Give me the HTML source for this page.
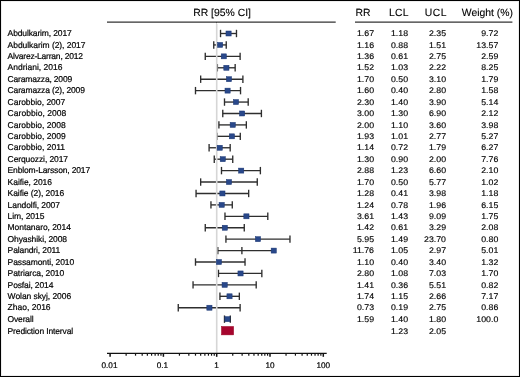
<!DOCTYPE html>
<html><head><meta charset="utf-8"><style>
html,body{margin:0;padding:0;background:#fff;}
body{width:520px;height:377px;position:relative;overflow:hidden;}
#frame{position:absolute;left:0;top:0;width:518px;height:375px;border:1px solid #000;}
#frame2{position:absolute;left:1px;top:1px;width:516px;height:373px;border:1px solid #eeeeee;}
svg{position:absolute;left:0;top:0;}
#txt{will-change:transform;text-rendering:geometricPrecision;}
#txt text{font-family:"Liberation Sans",sans-serif;fill:#000;stroke:#000;stroke-width:0.2;}
</style></head><body>
<div id="frame"></div><div id="frame2"></div>
<svg width="520" height="377" viewBox="0 0 520 377"><line x1="220.53" y1="33.5" x2="236.48" y2="33.5" stroke="#2e2e2e" stroke-width="1.35"/><line x1="220.53" y1="29.80" x2="220.53" y2="37.20" stroke="#2e2e2e" stroke-width="1.35"/><line x1="236.48" y1="29.80" x2="236.48" y2="37.20" stroke="#2e2e2e" stroke-width="1.35"/><line x1="213.74" y1="44.926" x2="226.24" y2="44.926" stroke="#2e2e2e" stroke-width="1.35"/><line x1="213.74" y1="41.23" x2="213.74" y2="48.63" stroke="#2e2e2e" stroke-width="1.35"/><line x1="226.24" y1="41.23" x2="226.24" y2="48.63" stroke="#2e2e2e" stroke-width="1.35"/><line x1="205.26" y1="56.352000000000004" x2="240.12" y2="56.352000000000004" stroke="#2e2e2e" stroke-width="1.35"/><line x1="205.26" y1="52.65" x2="205.26" y2="60.05" stroke="#2e2e2e" stroke-width="1.35"/><line x1="240.12" y1="52.65" x2="240.12" y2="60.05" stroke="#2e2e2e" stroke-width="1.35"/><line x1="217.38" y1="67.77799999999999" x2="235.16" y2="67.77799999999999" stroke="#2e2e2e" stroke-width="1.35"/><line x1="217.38" y1="64.08" x2="217.38" y2="71.48" stroke="#2e2e2e" stroke-width="1.35"/><line x1="235.16" y1="64.08" x2="235.16" y2="71.48" stroke="#2e2e2e" stroke-width="1.35"/><line x1="200.66" y1="79.20400000000001" x2="242.89" y2="79.20400000000001" stroke="#2e2e2e" stroke-width="1.35"/><line x1="200.66" y1="75.50" x2="200.66" y2="82.90" stroke="#2e2e2e" stroke-width="1.35"/><line x1="242.89" y1="75.50" x2="242.89" y2="82.90" stroke="#2e2e2e" stroke-width="1.35"/><line x1="195.49" y1="90.63" x2="240.53" y2="90.63" stroke="#2e2e2e" stroke-width="1.35"/><line x1="195.49" y1="86.93" x2="195.49" y2="94.33" stroke="#2e2e2e" stroke-width="1.35"/><line x1="240.53" y1="86.93" x2="240.53" y2="94.33" stroke="#2e2e2e" stroke-width="1.35"/><line x1="224.49" y1="102.056" x2="248.20" y2="102.056" stroke="#2e2e2e" stroke-width="1.35"/><line x1="224.49" y1="98.36" x2="224.49" y2="105.76" stroke="#2e2e2e" stroke-width="1.35"/><line x1="248.20" y1="98.36" x2="248.20" y2="105.76" stroke="#2e2e2e" stroke-width="1.35"/><line x1="222.77" y1="113.482" x2="261.41" y2="113.482" stroke="#2e2e2e" stroke-width="1.35"/><line x1="222.77" y1="109.78" x2="222.77" y2="117.18" stroke="#2e2e2e" stroke-width="1.35"/><line x1="261.41" y1="109.78" x2="261.41" y2="117.18" stroke="#2e2e2e" stroke-width="1.35"/><line x1="218.91" y1="124.908" x2="246.35" y2="124.908" stroke="#2e2e2e" stroke-width="1.35"/><line x1="218.91" y1="121.21" x2="218.91" y2="128.61" stroke="#2e2e2e" stroke-width="1.35"/><line x1="246.35" y1="121.21" x2="246.35" y2="128.61" stroke="#2e2e2e" stroke-width="1.35"/><line x1="216.93" y1="136.334" x2="240.28" y2="136.334" stroke="#2e2e2e" stroke-width="1.35"/><line x1="216.93" y1="132.63" x2="216.93" y2="140.03" stroke="#2e2e2e" stroke-width="1.35"/><line x1="240.28" y1="132.63" x2="240.28" y2="140.03" stroke="#2e2e2e" stroke-width="1.35"/><line x1="209.10" y1="147.76" x2="230.18" y2="147.76" stroke="#2e2e2e" stroke-width="1.35"/><line x1="209.10" y1="144.06" x2="209.10" y2="151.46" stroke="#2e2e2e" stroke-width="1.35"/><line x1="230.18" y1="144.06" x2="230.18" y2="151.46" stroke="#2e2e2e" stroke-width="1.35"/><line x1="214.26" y1="159.186" x2="232.74" y2="159.186" stroke="#2e2e2e" stroke-width="1.35"/><line x1="214.26" y1="155.49" x2="214.26" y2="162.89" stroke="#2e2e2e" stroke-width="1.35"/><line x1="232.74" y1="155.49" x2="232.74" y2="162.89" stroke="#2e2e2e" stroke-width="1.35"/><line x1="221.49" y1="170.612" x2="260.38" y2="170.612" stroke="#2e2e2e" stroke-width="1.35"/><line x1="221.49" y1="166.91" x2="221.49" y2="174.31" stroke="#2e2e2e" stroke-width="1.35"/><line x1="260.38" y1="166.91" x2="260.38" y2="174.31" stroke="#2e2e2e" stroke-width="1.35"/><line x1="200.66" y1="182.038" x2="257.27" y2="182.038" stroke="#2e2e2e" stroke-width="1.35"/><line x1="200.66" y1="178.34" x2="200.66" y2="185.74" stroke="#2e2e2e" stroke-width="1.35"/><line x1="257.27" y1="178.34" x2="257.27" y2="185.74" stroke="#2e2e2e" stroke-width="1.35"/><line x1="196.06" y1="193.464" x2="248.67" y2="193.464" stroke="#2e2e2e" stroke-width="1.35"/><line x1="196.06" y1="189.76" x2="196.06" y2="197.16" stroke="#2e2e2e" stroke-width="1.35"/><line x1="248.67" y1="189.76" x2="248.67" y2="197.16" stroke="#2e2e2e" stroke-width="1.35"/><line x1="210.95" y1="204.89000000000001" x2="232.28" y2="204.89000000000001" stroke="#2e2e2e" stroke-width="1.35"/><line x1="210.95" y1="201.19" x2="210.95" y2="208.59" stroke="#2e2e2e" stroke-width="1.35"/><line x1="232.28" y1="201.19" x2="232.28" y2="208.59" stroke="#2e2e2e" stroke-width="1.35"/><line x1="224.98" y1="216.316" x2="267.79" y2="216.316" stroke="#2e2e2e" stroke-width="1.35"/><line x1="224.98" y1="212.62" x2="224.98" y2="220.02" stroke="#2e2e2e" stroke-width="1.35"/><line x1="267.79" y1="212.62" x2="267.79" y2="220.02" stroke="#2e2e2e" stroke-width="1.35"/><line x1="205.26" y1="227.742" x2="244.27" y2="227.742" stroke="#2e2e2e" stroke-width="1.35"/><line x1="205.26" y1="224.04" x2="205.26" y2="231.44" stroke="#2e2e2e" stroke-width="1.35"/><line x1="244.27" y1="224.04" x2="244.27" y2="231.44" stroke="#2e2e2e" stroke-width="1.35"/><line x1="225.93" y1="239.168" x2="289.97" y2="239.168" stroke="#2e2e2e" stroke-width="1.35"/><line x1="225.93" y1="235.47" x2="225.93" y2="242.87" stroke="#2e2e2e" stroke-width="1.35"/><line x1="289.97" y1="235.47" x2="289.97" y2="242.87" stroke="#2e2e2e" stroke-width="1.35"/><line x1="217.83" y1="250.594" x2="273.75" y2="250.594" stroke="#2e2e2e" stroke-width="1.35"/><line x1="217.83" y1="246.89" x2="217.83" y2="254.29" stroke="#2e2e2e" stroke-width="1.35"/><line x1="241.90" y1="246.89" x2="241.90" y2="254.29" stroke="#2e2e2e" stroke-width="1.35"/><line x1="195.49" y1="262.02" x2="245.03" y2="262.02" stroke="#2e2e2e" stroke-width="1.35"/><line x1="195.49" y1="258.32" x2="195.49" y2="265.72" stroke="#2e2e2e" stroke-width="1.35"/><line x1="245.03" y1="258.32" x2="245.03" y2="265.72" stroke="#2e2e2e" stroke-width="1.35"/><line x1="218.48" y1="273.446" x2="261.84" y2="273.446" stroke="#2e2e2e" stroke-width="1.35"/><line x1="218.48" y1="269.75" x2="218.48" y2="277.15" stroke="#2e2e2e" stroke-width="1.35"/><line x1="261.84" y1="269.75" x2="261.84" y2="277.15" stroke="#2e2e2e" stroke-width="1.35"/><line x1="193.05" y1="284.872" x2="256.20" y2="284.872" stroke="#2e2e2e" stroke-width="1.35"/><line x1="193.05" y1="281.17" x2="193.05" y2="288.57" stroke="#2e2e2e" stroke-width="1.35"/><line x1="256.20" y1="281.17" x2="256.20" y2="288.57" stroke="#2e2e2e" stroke-width="1.35"/><line x1="219.94" y1="296.298" x2="239.35" y2="296.298" stroke="#2e2e2e" stroke-width="1.35"/><line x1="219.94" y1="292.60" x2="219.94" y2="300.00" stroke="#2e2e2e" stroke-width="1.35"/><line x1="239.35" y1="292.60" x2="239.35" y2="300.00" stroke="#2e2e2e" stroke-width="1.35"/><line x1="178.26" y1="307.724" x2="240.12" y2="307.724" stroke="#2e2e2e" stroke-width="1.35"/><line x1="178.26" y1="304.02" x2="178.26" y2="311.42" stroke="#2e2e2e" stroke-width="1.35"/><line x1="240.12" y1="304.02" x2="240.12" y2="311.42" stroke="#2e2e2e" stroke-width="1.35"/><line x1="224.49" y1="319.15" x2="230.31" y2="319.15" stroke="#2e2e2e" stroke-width="1.35"/><line x1="224.49" y1="315.45" x2="224.49" y2="322.85" stroke="#2e2e2e" stroke-width="1.35"/><line x1="230.31" y1="315.45" x2="230.31" y2="322.85" stroke="#2e2e2e" stroke-width="1.35"/><line x1="216.7" y1="24.0" x2="216.7" y2="353" stroke="#d6d6d6" stroke-width="1.6"/><rect x="225.97" y="31.00" width="5.2" height="5" fill="#29488a" stroke="#1a3673" stroke-width="0.5"/><rect x="217.54" y="42.43" width="5.2" height="5" fill="#29488a" stroke="#1a3673" stroke-width="0.5"/><rect x="221.22" y="53.85" width="5.2" height="5" fill="#29488a" stroke="#1a3673" stroke-width="0.5"/><rect x="223.79" y="65.28" width="5.2" height="5" fill="#29488a" stroke="#1a3673" stroke-width="0.5"/><rect x="226.38" y="76.70" width="5.2" height="5" fill="#29488a" stroke="#1a3673" stroke-width="0.5"/><rect x="224.98" y="88.13" width="5.2" height="5" fill="#29488a" stroke="#1a3673" stroke-width="0.5"/><rect x="233.38" y="99.56" width="5.2" height="5" fill="#29488a" stroke="#1a3673" stroke-width="0.5"/><rect x="239.53" y="110.98" width="5.2" height="5" fill="#29488a" stroke="#1a3673" stroke-width="0.5"/><rect x="230.14" y="122.41" width="5.2" height="5" fill="#29488a" stroke="#1a3673" stroke-width="0.5"/><rect x="229.32" y="133.83" width="5.2" height="5" fill="#29488a" stroke="#1a3673" stroke-width="0.5"/><rect x="217.13" y="145.26" width="5.2" height="5" fill="#29488a" stroke="#1a3673" stroke-width="0.5"/><rect x="220.17" y="156.69" width="5.2" height="5" fill="#29488a" stroke="#1a3673" stroke-width="0.5"/><rect x="238.59" y="168.11" width="5.2" height="5" fill="#29488a" stroke="#1a3673" stroke-width="0.5"/><rect x="226.38" y="179.54" width="5.2" height="5" fill="#29488a" stroke="#1a3673" stroke-width="0.5"/><rect x="219.81" y="190.96" width="5.2" height="5" fill="#29488a" stroke="#1a3673" stroke-width="0.5"/><rect x="219.08" y="202.39" width="5.2" height="5" fill="#29488a" stroke="#1a3673" stroke-width="0.5"/><rect x="243.82" y="213.82" width="5.2" height="5" fill="#29488a" stroke="#1a3673" stroke-width="0.5"/><rect x="222.22" y="225.24" width="5.2" height="5" fill="#29488a" stroke="#1a3673" stroke-width="0.5"/><rect x="255.38" y="236.67" width="5.2" height="5" fill="#29488a" stroke="#1a3673" stroke-width="0.5"/><rect x="271.15" y="248.09" width="5.2" height="5" fill="#29488a" stroke="#1a3673" stroke-width="0.5"/><rect x="216.31" y="259.52" width="5.2" height="5" fill="#29488a" stroke="#1a3673" stroke-width="0.5"/><rect x="237.93" y="270.95" width="5.2" height="5" fill="#29488a" stroke="#1a3673" stroke-width="0.5"/><rect x="222.05" y="282.37" width="5.2" height="5" fill="#29488a" stroke="#1a3673" stroke-width="0.5"/><rect x="226.92" y="293.80" width="5.2" height="5" fill="#29488a" stroke="#1a3673" stroke-width="0.5"/><rect x="206.82" y="305.22" width="5.2" height="5" fill="#29488a" stroke="#1a3673" stroke-width="0.5"/><rect x="224.83" y="316.65" width="5.2" height="5" fill="#29488a" stroke="#1a3673" stroke-width="0.5"/><rect x="221.49" y="326.48" width="12.12" height="8.4" fill="#a6052e" stroke="#98001f" stroke-width="0.5"/><line x1="107" y1="353.4" x2="326.7" y2="353.4" stroke="#111" stroke-width="1.3"/><line x1="110.10" y1="353.4" x2="110.10" y2="356.79999999999995" stroke="#111" stroke-width="1.5"/><line x1="126.14" y1="353.4" x2="126.14" y2="355.7" stroke="#111" stroke-width="1.2"/><line x1="135.53" y1="353.4" x2="135.53" y2="355.7" stroke="#111" stroke-width="1.2"/><line x1="142.19" y1="353.4" x2="142.19" y2="355.7" stroke="#111" stroke-width="1.2"/><line x1="147.36" y1="353.4" x2="147.36" y2="355.7" stroke="#111" stroke-width="1.2"/><line x1="151.58" y1="353.4" x2="151.58" y2="355.7" stroke="#111" stroke-width="1.2"/><line x1="155.14" y1="353.4" x2="155.14" y2="355.7" stroke="#111" stroke-width="1.2"/><line x1="158.23" y1="353.4" x2="158.23" y2="355.7" stroke="#111" stroke-width="1.2"/><line x1="160.96" y1="353.4" x2="160.96" y2="355.7" stroke="#111" stroke-width="1.2"/><line x1="163.40" y1="353.4" x2="163.40" y2="356.79999999999995" stroke="#111" stroke-width="1.5"/><line x1="179.44" y1="353.4" x2="179.44" y2="355.7" stroke="#111" stroke-width="1.2"/><line x1="188.83" y1="353.4" x2="188.83" y2="355.7" stroke="#111" stroke-width="1.2"/><line x1="195.49" y1="353.4" x2="195.49" y2="355.7" stroke="#111" stroke-width="1.2"/><line x1="200.66" y1="353.4" x2="200.66" y2="355.7" stroke="#111" stroke-width="1.2"/><line x1="204.88" y1="353.4" x2="204.88" y2="355.7" stroke="#111" stroke-width="1.2"/><line x1="208.44" y1="353.4" x2="208.44" y2="355.7" stroke="#111" stroke-width="1.2"/><line x1="211.53" y1="353.4" x2="211.53" y2="355.7" stroke="#111" stroke-width="1.2"/><line x1="214.26" y1="353.4" x2="214.26" y2="355.7" stroke="#111" stroke-width="1.2"/><line x1="216.70" y1="353.4" x2="216.70" y2="356.79999999999995" stroke="#111" stroke-width="1.5"/><line x1="232.74" y1="353.4" x2="232.74" y2="355.7" stroke="#111" stroke-width="1.2"/><line x1="242.13" y1="353.4" x2="242.13" y2="355.7" stroke="#111" stroke-width="1.2"/><line x1="248.79" y1="353.4" x2="248.79" y2="355.7" stroke="#111" stroke-width="1.2"/><line x1="253.96" y1="353.4" x2="253.96" y2="355.7" stroke="#111" stroke-width="1.2"/><line x1="258.18" y1="353.4" x2="258.18" y2="355.7" stroke="#111" stroke-width="1.2"/><line x1="261.74" y1="353.4" x2="261.74" y2="355.7" stroke="#111" stroke-width="1.2"/><line x1="264.83" y1="353.4" x2="264.83" y2="355.7" stroke="#111" stroke-width="1.2"/><line x1="267.56" y1="353.4" x2="267.56" y2="355.7" stroke="#111" stroke-width="1.2"/><line x1="270.00" y1="353.4" x2="270.00" y2="356.79999999999995" stroke="#111" stroke-width="1.5"/><line x1="286.04" y1="353.4" x2="286.04" y2="355.7" stroke="#111" stroke-width="1.2"/><line x1="295.43" y1="353.4" x2="295.43" y2="355.7" stroke="#111" stroke-width="1.2"/><line x1="302.09" y1="353.4" x2="302.09" y2="355.7" stroke="#111" stroke-width="1.2"/><line x1="307.26" y1="353.4" x2="307.26" y2="355.7" stroke="#111" stroke-width="1.2"/><line x1="311.48" y1="353.4" x2="311.48" y2="355.7" stroke="#111" stroke-width="1.2"/><line x1="315.04" y1="353.4" x2="315.04" y2="355.7" stroke="#111" stroke-width="1.2"/><line x1="318.13" y1="353.4" x2="318.13" y2="355.7" stroke="#111" stroke-width="1.2"/><line x1="320.86" y1="353.4" x2="320.86" y2="355.7" stroke="#111" stroke-width="1.2"/><line x1="323.30" y1="353.4" x2="323.30" y2="356.79999999999995" stroke="#111" stroke-width="1.5"/><line x1="107" y1="22.2" x2="335.7" y2="22.2" stroke="#333" stroke-width="1.3"/><rect x="216" y="22.2" width="1" height="1" fill="#3a3a3a"/><line x1="355" y1="22.2" x2="512.4" y2="22.2" stroke="#333" stroke-width="1.3"/></svg>
<svg id="txt" width="520" height="377" viewBox="0 0 520 377">
<text x="193.20" y="16.00" font-size="10.4" style="letter-spacing:0.000px;stroke-width:0.12">RR [95% CI]</text>
<text x="355.60" y="16.00" font-size="10.4" style="letter-spacing:0.000px;stroke-width:0.12">RR</text>
<text x="389.00" y="16.00" font-size="10.4" style="letter-spacing:0.200px;stroke-width:0.12">LCL</text>
<text x="424.80" y="16.00" font-size="10.4" style="letter-spacing:0.500px;stroke-width:0.12">UCL</text>
<text x="461.80" y="16.00" font-size="10.4" style="letter-spacing:0.000px;stroke-width:0.12">Weight (%)</text>
<text x="7.60" y="36.20" font-size="8.5" style="letter-spacing:-0.133px;">Abdulkarim, 2017</text>
<text transform="translate(374.00 36) scale(1.07 1)" font-size="8.2" text-anchor="end" style="letter-spacing:0.000px;stroke-width:0.15">1.67</text>
<text transform="translate(408.00 36) scale(1.07 1)" font-size="8.2" text-anchor="end" style="letter-spacing:0.000px;stroke-width:0.15">1.18</text>
<text transform="translate(446.00 36) scale(1.07 1)" font-size="8.2" text-anchor="end" style="letter-spacing:0.000px;stroke-width:0.15">2.35</text>
<text transform="translate(498.30 36) scale(1.07 1)" font-size="8.2" text-anchor="end" style="letter-spacing:0.000px;stroke-width:0.15">9.72</text>
<text x="7.60" y="47.63" font-size="8.5" style="letter-spacing:-0.053px;">Abdulkarim (2), 2017</text>
<text transform="translate(374.00 48) scale(1.07 1)" font-size="8.2" text-anchor="end" style="letter-spacing:0.000px;stroke-width:0.15">1.16</text>
<text transform="translate(408.00 48) scale(1.07 1)" font-size="8.2" text-anchor="end" style="letter-spacing:0.000px;stroke-width:0.15">0.88</text>
<text transform="translate(446.00 48) scale(1.07 1)" font-size="8.2" text-anchor="end" style="letter-spacing:0.000px;stroke-width:0.15">1.51</text>
<text transform="translate(498.30 48) scale(1.07 1)" font-size="8.2" text-anchor="end" style="letter-spacing:0.000px;stroke-width:0.15">13.57</text>
<text x="7.60" y="59.05" font-size="8.5" style="letter-spacing:-0.211px;">Alvarez-Larran, 2012</text>
<text transform="translate(374.00 59) scale(1.07 1)" font-size="8.2" text-anchor="end" style="letter-spacing:0.000px;stroke-width:0.15">1.36</text>
<text transform="translate(408.00 59) scale(1.07 1)" font-size="8.2" text-anchor="end" style="letter-spacing:0.000px;stroke-width:0.15">0.61</text>
<text transform="translate(446.00 59) scale(1.07 1)" font-size="8.2" text-anchor="end" style="letter-spacing:0.000px;stroke-width:0.15">2.75</text>
<text transform="translate(498.30 59) scale(1.07 1)" font-size="8.2" text-anchor="end" style="letter-spacing:0.000px;stroke-width:0.15">2.59</text>
<text x="7.60" y="70.48" font-size="8.5">Andriani, 2016</text>
<text transform="translate(374.00 70) scale(1.07 1)" font-size="8.2" text-anchor="end" style="letter-spacing:0.000px;stroke-width:0.15">1.52</text>
<text transform="translate(408.00 70) scale(1.07 1)" font-size="8.2" text-anchor="end" style="letter-spacing:0.000px;stroke-width:0.15">1.03</text>
<text transform="translate(446.00 70) scale(1.07 1)" font-size="8.2" text-anchor="end" style="letter-spacing:0.000px;stroke-width:0.15">2.22</text>
<text transform="translate(498.30 70) scale(1.07 1)" font-size="8.2" text-anchor="end" style="letter-spacing:0.000px;stroke-width:0.15">8.25</text>
<text x="7.60" y="81.90" font-size="8.5" style="letter-spacing:-0.179px;">Caramazza, 2009</text>
<text transform="translate(374.00 82) scale(1.07 1)" font-size="8.2" text-anchor="end" style="letter-spacing:0.000px;stroke-width:0.15">1.70</text>
<text transform="translate(408.00 82) scale(1.07 1)" font-size="8.2" text-anchor="end" style="letter-spacing:0.000px;stroke-width:0.15">0.50</text>
<text transform="translate(446.00 82) scale(1.07 1)" font-size="8.2" text-anchor="end" style="letter-spacing:0.000px;stroke-width:0.15">3.10</text>
<text transform="translate(498.30 82) scale(1.07 1)" font-size="8.2" text-anchor="end" style="letter-spacing:0.000px;stroke-width:0.15">1.79</text>
<text x="7.60" y="93.33" font-size="8.5" style="letter-spacing:-0.139px;">Caramazza (2), 2009</text>
<text transform="translate(374.00 93) scale(1.07 1)" font-size="8.2" text-anchor="end" style="letter-spacing:0.000px;stroke-width:0.15">1.60</text>
<text transform="translate(408.00 93) scale(1.07 1)" font-size="8.2" text-anchor="end" style="letter-spacing:0.000px;stroke-width:0.15">0.40</text>
<text transform="translate(446.00 93) scale(1.07 1)" font-size="8.2" text-anchor="end" style="letter-spacing:0.000px;stroke-width:0.15">2.80</text>
<text transform="translate(498.30 93) scale(1.07 1)" font-size="8.2" text-anchor="end" style="letter-spacing:0.000px;stroke-width:0.15">1.58</text>
<text x="7.60" y="104.76" font-size="8.5" style="letter-spacing:-0.038px;">Carobbio, 2007</text>
<text transform="translate(374.00 105) scale(1.07 1)" font-size="8.2" text-anchor="end" style="letter-spacing:0.000px;stroke-width:0.15">2.30</text>
<text transform="translate(408.00 105) scale(1.07 1)" font-size="8.2" text-anchor="end" style="letter-spacing:0.000px;stroke-width:0.15">1.40</text>
<text transform="translate(446.00 105) scale(1.07 1)" font-size="8.2" text-anchor="end" style="letter-spacing:0.000px;stroke-width:0.15">3.90</text>
<text transform="translate(498.30 105) scale(1.07 1)" font-size="8.2" text-anchor="end" style="letter-spacing:0.000px;stroke-width:0.15">5.14</text>
<text x="7.60" y="116.18" font-size="8.5" style="letter-spacing:0.038px;">Carobbio, 2008</text>
<text transform="translate(374.00 116) scale(1.07 1)" font-size="8.2" text-anchor="end" style="letter-spacing:0.000px;stroke-width:0.15">3.00</text>
<text transform="translate(408.00 116) scale(1.07 1)" font-size="8.2" text-anchor="end" style="letter-spacing:0.000px;stroke-width:0.15">1.30</text>
<text transform="translate(446.00 116) scale(1.07 1)" font-size="8.2" text-anchor="end" style="letter-spacing:0.000px;stroke-width:0.15">6.90</text>
<text transform="translate(498.30 116) scale(1.07 1)" font-size="8.2" text-anchor="end" style="letter-spacing:0.000px;stroke-width:0.15">2.12</text>
<text x="7.60" y="127.61" font-size="8.5">Carobbio, 2008</text>
<text transform="translate(374.00 128) scale(1.07 1)" font-size="8.2" text-anchor="end" style="letter-spacing:0.000px;stroke-width:0.15">2.00</text>
<text transform="translate(408.00 128) scale(1.07 1)" font-size="8.2" text-anchor="end" style="letter-spacing:0.000px;stroke-width:0.15">1.10</text>
<text transform="translate(446.00 128) scale(1.07 1)" font-size="8.2" text-anchor="end" style="letter-spacing:0.000px;stroke-width:0.15">3.60</text>
<text transform="translate(498.30 128) scale(1.07 1)" font-size="8.2" text-anchor="end" style="letter-spacing:0.000px;stroke-width:0.15">3.98</text>
<text x="7.60" y="139.03" font-size="8.5">Carobbio, 2009</text>
<text transform="translate(374.00 139) scale(1.07 1)" font-size="8.2" text-anchor="end" style="letter-spacing:0.000px;stroke-width:0.15">1.93</text>
<text transform="translate(408.00 139) scale(1.07 1)" font-size="8.2" text-anchor="end" style="letter-spacing:0.000px;stroke-width:0.15">1.01</text>
<text transform="translate(446.00 139) scale(1.07 1)" font-size="8.2" text-anchor="end" style="letter-spacing:0.000px;stroke-width:0.15">2.77</text>
<text transform="translate(498.30 139) scale(1.07 1)" font-size="8.2" text-anchor="end" style="letter-spacing:0.000px;stroke-width:0.15">5.27</text>
<text x="7.60" y="150.46" font-size="8.5" style="letter-spacing:-0.000px;">Carobbio, 2011</text>
<text transform="translate(374.00 150) scale(1.07 1)" font-size="8.2" text-anchor="end" style="letter-spacing:0.000px;stroke-width:0.15">1.14</text>
<text transform="translate(408.00 150) scale(1.07 1)" font-size="8.2" text-anchor="end" style="letter-spacing:0.000px;stroke-width:0.15">0.72</text>
<text transform="translate(446.00 150) scale(1.07 1)" font-size="8.2" text-anchor="end" style="letter-spacing:0.000px;stroke-width:0.15">1.79</text>
<text transform="translate(498.30 150) scale(1.07 1)" font-size="8.2" text-anchor="end" style="letter-spacing:0.000px;stroke-width:0.15">6.27</text>
<text x="7.60" y="161.89" font-size="8.5" style="letter-spacing:-0.107px;">Cerquozzi, 2017</text>
<text transform="translate(374.00 162) scale(1.07 1)" font-size="8.2" text-anchor="end" style="letter-spacing:0.000px;stroke-width:0.15">1.30</text>
<text transform="translate(408.00 162) scale(1.07 1)" font-size="8.2" text-anchor="end" style="letter-spacing:0.000px;stroke-width:0.15">0.90</text>
<text transform="translate(446.00 162) scale(1.07 1)" font-size="8.2" text-anchor="end" style="letter-spacing:0.000px;stroke-width:0.15">2.00</text>
<text transform="translate(498.30 162) scale(1.07 1)" font-size="8.2" text-anchor="end" style="letter-spacing:0.000px;stroke-width:0.15">7.76</text>
<text x="7.60" y="173.31" font-size="8.5" style="letter-spacing:-0.158px;">Enblom-Larsson, 2017</text>
<text transform="translate(374.00 173) scale(1.07 1)" font-size="8.2" text-anchor="end" style="letter-spacing:0.000px;stroke-width:0.15">2.88</text>
<text transform="translate(408.00 173) scale(1.07 1)" font-size="8.2" text-anchor="end" style="letter-spacing:0.000px;stroke-width:0.15">1.23</text>
<text transform="translate(446.00 173) scale(1.07 1)" font-size="8.2" text-anchor="end" style="letter-spacing:0.000px;stroke-width:0.15">6.60</text>
<text transform="translate(498.30 173) scale(1.07 1)" font-size="8.2" text-anchor="end" style="letter-spacing:0.000px;stroke-width:0.15">2.10</text>
<text x="7.60" y="184.74" font-size="8.5" style="letter-spacing:-0.045px;">Kaifie, 2016</text>
<text transform="translate(374.00 185) scale(1.07 1)" font-size="8.2" text-anchor="end" style="letter-spacing:0.000px;stroke-width:0.15">1.70</text>
<text transform="translate(408.00 185) scale(1.07 1)" font-size="8.2" text-anchor="end" style="letter-spacing:0.000px;stroke-width:0.15">0.50</text>
<text transform="translate(446.00 185) scale(1.07 1)" font-size="8.2" text-anchor="end" style="letter-spacing:0.000px;stroke-width:0.15">5.77</text>
<text transform="translate(498.30 185) scale(1.07 1)" font-size="8.2" text-anchor="end" style="letter-spacing:0.000px;stroke-width:0.15">1.02</text>
<text x="7.60" y="196.16" font-size="8.5" style="letter-spacing:-0.067px;">Kaifie (2), 2016</text>
<text transform="translate(374.00 196) scale(1.07 1)" font-size="8.2" text-anchor="end" style="letter-spacing:0.000px;stroke-width:0.15">1.28</text>
<text transform="translate(408.00 196) scale(1.07 1)" font-size="8.2" text-anchor="end" style="letter-spacing:0.000px;stroke-width:0.15">0.41</text>
<text transform="translate(446.00 196) scale(1.07 1)" font-size="8.2" text-anchor="end" style="letter-spacing:0.000px;stroke-width:0.15">3.98</text>
<text transform="translate(498.30 196) scale(1.07 1)" font-size="8.2" text-anchor="end" style="letter-spacing:0.000px;stroke-width:0.15">1.18</text>
<text x="7.60" y="207.59" font-size="8.5" style="letter-spacing:-0.077px;">Landolfi, 2007</text>
<text transform="translate(374.00 208) scale(1.07 1)" font-size="8.2" text-anchor="end" style="letter-spacing:0.000px;stroke-width:0.15">1.24</text>
<text transform="translate(408.00 208) scale(1.07 1)" font-size="8.2" text-anchor="end" style="letter-spacing:0.000px;stroke-width:0.15">0.78</text>
<text transform="translate(446.00 208) scale(1.07 1)" font-size="8.2" text-anchor="end" style="letter-spacing:0.000px;stroke-width:0.15">1.96</text>
<text transform="translate(498.30 208) scale(1.07 1)" font-size="8.2" text-anchor="end" style="letter-spacing:0.000px;stroke-width:0.15">6.15</text>
<text x="7.60" y="219.02" font-size="8.5" style="letter-spacing:-0.062px;">Lim, 2015</text>
<text transform="translate(374.00 219) scale(1.07 1)" font-size="8.2" text-anchor="end" style="letter-spacing:0.000px;stroke-width:0.15">3.61</text>
<text transform="translate(408.00 219) scale(1.07 1)" font-size="8.2" text-anchor="end" style="letter-spacing:0.000px;stroke-width:0.15">1.43</text>
<text transform="translate(446.00 219) scale(1.07 1)" font-size="8.2" text-anchor="end" style="letter-spacing:0.000px;stroke-width:0.15">9.09</text>
<text transform="translate(498.30 219) scale(1.07 1)" font-size="8.2" text-anchor="end" style="letter-spacing:0.000px;stroke-width:0.15">1.75</text>
<text x="7.60" y="230.44" font-size="8.5" style="letter-spacing:-0.071px;">Montanaro, 2014</text>
<text transform="translate(374.00 230) scale(1.07 1)" font-size="8.2" text-anchor="end" style="letter-spacing:0.000px;stroke-width:0.15">1.42</text>
<text transform="translate(408.00 230) scale(1.07 1)" font-size="8.2" text-anchor="end" style="letter-spacing:0.000px;stroke-width:0.15">0.61</text>
<text transform="translate(446.00 230) scale(1.07 1)" font-size="8.2" text-anchor="end" style="letter-spacing:0.000px;stroke-width:0.15">3.29</text>
<text transform="translate(498.30 230) scale(1.07 1)" font-size="8.2" text-anchor="end" style="letter-spacing:0.000px;stroke-width:0.15">2.08</text>
<text x="7.60" y="241.87" font-size="8.5" style="letter-spacing:-0.107px;">Ohyashiki, 2008</text>
<text transform="translate(374.00 242) scale(1.07 1)" font-size="8.2" text-anchor="end" style="letter-spacing:0.000px;stroke-width:0.15">5.95</text>
<text transform="translate(408.00 242) scale(1.07 1)" font-size="8.2" text-anchor="end" style="letter-spacing:0.000px;stroke-width:0.15">1.49</text>
<text transform="translate(446.00 242) scale(1.07 1)" font-size="8.2" text-anchor="end" style="letter-spacing:0.000px;stroke-width:0.15">23.70</text>
<text transform="translate(498.30 242) scale(1.07 1)" font-size="8.2" text-anchor="end" style="letter-spacing:0.000px;stroke-width:0.15">0.80</text>
<text x="7.60" y="253.29" font-size="8.5" style="letter-spacing:-0.115px;">Palandri, 2011</text>
<text transform="translate(374.00 253) scale(1.07 1)" font-size="8.2" text-anchor="end" style="letter-spacing:0.000px;stroke-width:0.15">11.76</text>
<text transform="translate(408.00 253) scale(1.07 1)" font-size="8.2" text-anchor="end" style="letter-spacing:0.000px;stroke-width:0.15">1.05</text>
<text transform="translate(446.00 253) scale(1.07 1)" font-size="8.2" text-anchor="end" style="letter-spacing:0.000px;stroke-width:0.15">2.97</text>
<text transform="translate(498.30 253) scale(1.07 1)" font-size="8.2" text-anchor="end" style="letter-spacing:0.000px;stroke-width:0.15">5.01</text>
<text x="7.60" y="264.72" font-size="8.5" style="letter-spacing:-0.100px;">Passamonti, 2010</text>
<text transform="translate(374.00 265) scale(1.07 1)" font-size="8.2" text-anchor="end" style="letter-spacing:0.000px;stroke-width:0.15">1.10</text>
<text transform="translate(408.00 265) scale(1.07 1)" font-size="8.2" text-anchor="end" style="letter-spacing:0.000px;stroke-width:0.15">0.40</text>
<text transform="translate(446.00 265) scale(1.07 1)" font-size="8.2" text-anchor="end" style="letter-spacing:0.000px;stroke-width:0.15">3.40</text>
<text transform="translate(498.30 265) scale(1.07 1)" font-size="8.2" text-anchor="end" style="letter-spacing:0.000px;stroke-width:0.15">1.32</text>
<text x="7.60" y="276.15" font-size="8.5" style="letter-spacing:-0.071px;">Patriarca, 2010</text>
<text transform="translate(374.00 276) scale(1.07 1)" font-size="8.2" text-anchor="end" style="letter-spacing:0.000px;stroke-width:0.15">2.80</text>
<text transform="translate(408.00 276) scale(1.07 1)" font-size="8.2" text-anchor="end" style="letter-spacing:0.000px;stroke-width:0.15">1.08</text>
<text transform="translate(446.00 276) scale(1.07 1)" font-size="8.2" text-anchor="end" style="letter-spacing:0.000px;stroke-width:0.15">7.03</text>
<text transform="translate(498.30 276) scale(1.07 1)" font-size="8.2" text-anchor="end" style="letter-spacing:0.000px;stroke-width:0.15">1.70</text>
<text x="7.60" y="287.57" font-size="8.5" style="letter-spacing:-0.136px;">Posfai, 2014</text>
<text transform="translate(374.00 288) scale(1.07 1)" font-size="8.2" text-anchor="end" style="letter-spacing:0.000px;stroke-width:0.15">1.41</text>
<text transform="translate(408.00 288) scale(1.07 1)" font-size="8.2" text-anchor="end" style="letter-spacing:0.000px;stroke-width:0.15">0.36</text>
<text transform="translate(446.00 288) scale(1.07 1)" font-size="8.2" text-anchor="end" style="letter-spacing:0.000px;stroke-width:0.15">5.51</text>
<text transform="translate(498.30 288) scale(1.07 1)" font-size="8.2" text-anchor="end" style="letter-spacing:0.000px;stroke-width:0.15">0.82</text>
<text x="7.60" y="299.00" font-size="8.5" style="letter-spacing:-0.067px;">Wolan skyj, 2006</text>
<text transform="translate(374.00 299) scale(1.07 1)" font-size="8.2" text-anchor="end" style="letter-spacing:0.000px;stroke-width:0.15">1.74</text>
<text transform="translate(408.00 299) scale(1.07 1)" font-size="8.2" text-anchor="end" style="letter-spacing:0.000px;stroke-width:0.15">1.15</text>
<text transform="translate(446.00 299) scale(1.07 1)" font-size="8.2" text-anchor="end" style="letter-spacing:0.000px;stroke-width:0.15">2.66</text>
<text transform="translate(498.30 299) scale(1.07 1)" font-size="8.2" text-anchor="end" style="letter-spacing:0.000px;stroke-width:0.15">7.17</text>
<text x="7.60" y="310.42" font-size="8.5" style="letter-spacing:-0.000px;">Zhao, 2016</text>
<text transform="translate(374.00 310) scale(1.07 1)" font-size="8.2" text-anchor="end" style="letter-spacing:0.000px;stroke-width:0.15">0.73</text>
<text transform="translate(408.00 310) scale(1.07 1)" font-size="8.2" text-anchor="end" style="letter-spacing:0.000px;stroke-width:0.15">0.19</text>
<text transform="translate(446.00 310) scale(1.07 1)" font-size="8.2" text-anchor="end" style="letter-spacing:0.000px;stroke-width:0.15">2.75</text>
<text transform="translate(498.30 310) scale(1.07 1)" font-size="8.2" text-anchor="end" style="letter-spacing:0.000px;stroke-width:0.15">0.86</text>
<text x="7.60" y="321.85" font-size="8.5" style="letter-spacing:-0.167px;">Overall</text>
<text transform="translate(374.00 322) scale(1.07 1)" font-size="8.2" text-anchor="end" style="letter-spacing:0.000px;stroke-width:0.15">1.59</text>
<text transform="translate(408.00 322) scale(1.07 1)" font-size="8.2" text-anchor="end" style="letter-spacing:0.000px;stroke-width:0.15">1.40</text>
<text transform="translate(446.00 322) scale(1.07 1)" font-size="8.2" text-anchor="end" style="letter-spacing:0.000px;stroke-width:0.15">1.80</text>
<text transform="translate(498.30 322) scale(1.07 1)" font-size="8.2" text-anchor="end" style="letter-spacing:0.000px;stroke-width:0.15">100.0</text>
<text x="7.60" y="333.98" font-size="8.5" style="letter-spacing:-0.139px;">Prediction Interval</text>
<text transform="translate(408.00 334) scale(1.07 1)" font-size="8.2" text-anchor="end" style="letter-spacing:0.000px;stroke-width:0.15">1.23</text>
<text transform="translate(446.00 334) scale(1.07 1)" font-size="8.2" text-anchor="end" style="letter-spacing:0.000px;stroke-width:0.15">2.05</text>
<text x="109.50" y="367.70" font-size="8.2" text-anchor="middle">0.01</text>
<text x="162.40" y="367.70" font-size="8.2" text-anchor="middle">0.1</text>
<text x="216.45" y="367.70" font-size="8.2" text-anchor="middle">1</text>
<text x="270.00" y="367.70" font-size="8.2" text-anchor="middle">10</text>
<text x="323.30" y="367.70" font-size="8.2" text-anchor="middle">100</text>
</svg>
</body></html>
